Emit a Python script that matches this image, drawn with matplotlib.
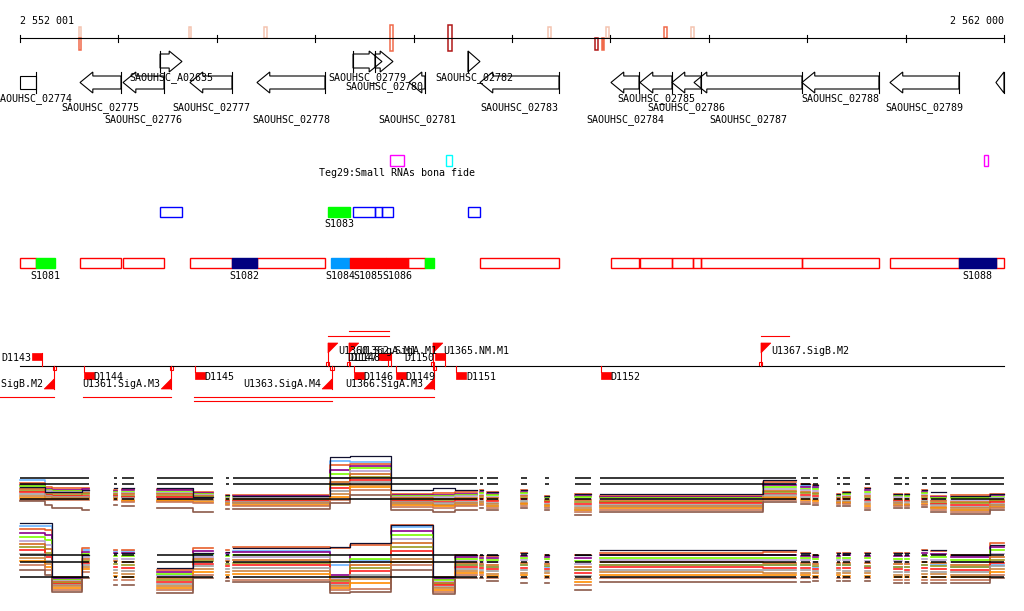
import numpy as np
import matplotlib
matplotlib.use("Agg")
import matplotlib.pyplot as plt
from matplotlib.patches import Polygon, Rectangle

# ---------------- data ----------------
win_start, win_end = 2552001, 2562000
ruler_labels = ["2 552 001", "2 562 000"]
tick_step = 1000

# peaks on the ruler: start, end, side, colour, filled
peak_start = [2552601, 2552601, 2553718, 2554480, 2555761, 2556350, 2557367, 2557844, 2557915, 2557956, 2558545, 2558819]
peak_end   = [2552621, 2552621, 2553738, 2554510, 2555791, 2556391, 2557397, 2557874, 2557935, 2557986, 2558575, 2558850]
peak_side  = ["up", "down", "up", "up", "both", "both", "up", "down", "down", "up", "up", "up"]
peak_color = ["#f4c4b0", "#f06a4a", "#f4c4b0", "#f4c4b0", "#f06a4a", "#b01818",
              "#f4c4b0", "#b01818", "#f06a4a", "#f4c4b0", "#f06a4a", "#f4c4b0"]
peak_fill  = [False, False, False, False, False, False, False, False, True, False, False, False]

# genes
gene_names  = ["SAOUHSC_02774", "SAOUHSC_02775", "SAOUHSC_02776", "SAOUHSC_A02635", "SAOUHSC_02777",
               "SAOUHSC_02778", "SAOUHSC_02779", "SAOUHSC_02780", "SAOUHSC_02781", "SAOUHSC_02782",
               "SAOUHSC_02783", "SAOUHSC_02784", "SAOUHSC_02785", "SAOUHSC_02786", "SAOUHSC_02787",
               "SAOUHSC_02788", "SAOUHSC_02789", ""]
gene_start  = [2551900, 2552611, 2553048, 2553424, 2553728, 2554409, 2555385, 2555608, 2555954, 2556553,
               2556675, 2558006, 2558301, 2558626, 2558850, 2559947, 2560841, 2561918]
gene_end    = [2552164, 2553027, 2553464, 2553647, 2554155, 2555100, 2555679, 2555791, 2556116, 2556675,
               2557478, 2558291, 2558626, 2558921, 2559947, 2560729, 2561542, 2562350]
gene_strand = ["-", "-", "-", "+", "-", "-", "+", "+", "-", "+", "-", "-", "-", "-", "-", "-", "-", "-"]
gene_lane   = [2, 3, 4, 0, 3, 4, 0, 1, 4, 0, 3, 4, 2, 3, 4, 2, 3, 2]

# small RNAs (Teg)
teg_start = [2555761, 2556330, 2561797]
teg_end   = [2555903, 2556391, 2561837]
teg_color = ["#ff00ff", "#00ffff", "#ff00ff"]
teg_label = "Teg29:Small RNAs bona fide"

# blue row + S1083
blue_start = [2553424, 2555385, 2555608, 2555679, 2556553]
blue_end   = [2553647, 2555608, 2555679, 2555791, 2556675]
s1083 = (2555131, 2555354)

# S-row segments
seg_out_start = [2552001, 2552611, 2553048, 2553728, 2554409, 2555944, 2556675, 2558006, 2558301,
                 2558626, 2558840, 2558921, 2559947, 2560841, 2561918]
seg_out_end   = [2552164, 2553027, 2553464, 2554155, 2555100, 2556116, 2557478, 2558291, 2558626,
                 2558840, 2558921, 2559947, 2560729, 2561542, 2562000]
seg_names = ["S1081", "S1082", "S1084", "S1085", "S1086", "", "S1088"]
seg_start = [2552164, 2554155, 2555161, 2555354, 2555720, 2556116, 2561542]
seg_end   = [2552357, 2554409, 2555354, 2555720, 2555944, 2556208, 2561918]
seg_color = ["#00ff00", "#000080", "#0099ff", "#ff0000", "#ff0000", "#00ff00", "#000080"]

# promoters and terminators
prom_names  = ["U1359.SigB.M2", "U1361.SigA.M3", "U1363.SigA.M4", "U1360.SigA.M1", "U1362.SigA.M1",
               "U1366.SigA.M3", "U1365.NM.M1", "U1367.SigB.M2"]
prom_pos    = [2552347, 2553536, 2555171, 2555131, 2555344, 2556208, 2556198, 2559531]
prom_strand = ["-", "-", "-", "+", "+", "-", "+", "+"]

term_names  = ["D1143", "D1144", "D1145", "D1146", "D1147", "D1148", "D1149", "D1150", "D1151", "D1152"]
term_pos    = [2552225, 2552651, 2553779, 2555395, 2555740, 2555771, 2555822, 2556320, 2556432, 2557905]
term_strand = ["+", "-", "-", "-", "+", "+", "-", "+", "-", "-"]

# transcription units
tu_start = [2551800, 2552641, 2553769, 2553769, 2555131, 2555344, 2559531]
tu_end   = [2552347, 2553536, 2556208, 2555171, 2555750, 2555750, 2559816]
tu_lane  = [0, 0, 0, 1, 2, 3, 2]

# expression blocks (where probes exist)
blocks = [(2552001, 2552255), (2552255, 2552326), (2552326, 2552631), (2552631, 2552702),
          (2552956, 2552987), (2553037, 2553160), (2553393, 2553759), (2553759, 2553962),
          (2554094, 2554125), (2554165, 2555151), (2555151, 2555354), (2555354, 2555771),
          (2555771, 2556198), (2556198, 2556421), (2556421, 2556645), (2556675, 2556706),
          (2556746, 2556858), (2557092, 2557153), (2557336, 2557377), (2557641, 2557803),
          (2557895, 2559551), (2559551, 2559886), (2559937, 2560028), (2560058, 2560109),
          (2560303, 2560333), (2560364, 2560435), (2560587, 2560637), (2560882, 2560963),
          (2560993, 2561034), (2561166, 2561217), (2561258, 2561410), (2561461, 2561858),
          (2561858, 2562000)]

# per block: [ref sample, 12 conditions, lowest sample]
expr_top = [
    [33, 40, 37, 35, 34, 32, 31, 29, 28, 26, 24, 22, 20, 19],
    [28, 21, 33, 31, 30, 29, 27, 26, 25, 24, 23, 21, 20, 15],
    [28, 22, 32, 30, 29, 28, 27, 25, 24, 23, 22, 21, 20, 12],
    [30, 23, 32, 31, 29, 28, 27, 26, 24, 23, 22, 21, 20, 10],
    [32, 24, 30, 29, 28, 27, 26, 25, 24, 23, 22, 21, 20, 15],
    [32, 23, 31, 30, 28, 27, 26, 24, 23, 22, 20, 19, 18, 14],
    [32, 22, 31, 30, 28, 27, 26, 24, 23, 21, 20, 19, 18, 12],
    [23, 20, 28, 27, 26, 25, 24, 23, 22, 21, 20, 18, 17, 8],
    [25, 18, 25, 24, 23, 22, 21, 20, 19, 18, 17, 16, 15, 11],
    [24, 17, 25, 24, 23, 22, 21, 20, 19, 18, 17, 15, 14, 11],
    [63, 59, 55, 50, 46, 42, 38, 35, 32, 29, 26, 23, 20, 17],
    [64, 58, 56, 54, 52, 49, 46, 43, 40, 38, 35, 33, 30, 25],
    [30, 16, 26, 25, 24, 23, 22, 20, 19, 18, 17, 15, 13, 10],
    [32, 15, 27, 25, 24, 23, 21, 20, 18, 17, 15, 14, 12, 8],
    [30, 16, 28, 26, 25, 24, 22, 21, 20, 18, 17, 15, 14, 10],
    [30, 17, 30, 28, 27, 25, 24, 22, 21, 19, 18, 16, 15, 12],
    [28, 14, 28, 26, 25, 23, 22, 20, 19, 17, 16, 14, 12, 10],
    [30, 16, 30, 28, 27, 25, 24, 22, 21, 19, 17, 16, 14, 12],
    [24, 13, 24, 23, 22, 21, 20, 19, 18, 16, 15, 14, 12, 10],
    [26, 10, 26, 24, 23, 21, 20, 18, 16, 14, 12, 10, 8, 5],
    [26, 13, 24, 23, 22, 21, 19, 18, 17, 15, 14, 12, 10, 8],
    [40, 36, 38, 35, 33, 31, 29, 28, 26, 25, 23, 22, 20, 18],
    [36, 34, 36, 33, 31, 30, 28, 27, 25, 23, 21, 20, 18, 16],
    [35, 32, 35, 33, 31, 29, 27, 26, 24, 22, 20, 19, 17, 15],
    [26, 18, 26, 25, 24, 23, 22, 21, 20, 19, 18, 17, 16, 14],
    [28, 17, 28, 27, 26, 24, 23, 22, 21, 19, 18, 17, 16, 14],
    [32, 20, 32, 30, 28, 26, 24, 22, 20, 18, 16, 14, 12, 10],
    [26, 16, 26, 25, 24, 23, 21, 20, 19, 18, 17, 15, 14, 12],
    [26, 15, 26, 25, 24, 22, 21, 20, 19, 18, 16, 15, 14, 12],
    [30, 18, 30, 28, 27, 25, 24, 22, 21, 19, 18, 16, 15, 13],
    [28, 12, 24, 23, 22, 20, 19, 17, 16, 15, 13, 12, 10, 8],
    [24, 10, 25, 23, 22, 20, 18, 17, 15, 13, 12, 10, 8, 6],
    [26, 14, 26, 25, 23, 22, 20, 19, 18, 16, 15, 13, 12, 10],
]
expr_bot = [
    [72, 69, 66, 62, 58, 54, 51, 48, 45, 41, 37, 34, 30, 25],
    [72, 69, 65, 60, 55, 50, 46, 42, 38, 34, 31, 28, 25, 20],
    [18, 17, 18, 16, 15, 14, 13, 12, 11, 10, 9, 7, 5, 3],
    [40, 45, 47, 43, 41, 38, 36, 34, 32, 30, 28, 26, 23, 17],
    [42, 44, 45, 42, 39, 36, 34, 31, 28, 25, 22, 19, 15, 10],
    [42, 44, 45, 42, 39, 36, 33, 30, 27, 24, 21, 18, 15, 10],
    [27, 20, 25, 23, 21, 19, 17, 15, 13, 11, 9, 7, 5, 2],
    [42, 40, 47, 44, 41, 38, 36, 34, 31, 29, 26, 23, 20, 17],
    [43, 40, 45, 42, 39, 36, 34, 31, 29, 26, 23, 20, 17, 14],
    [47, 44, 48, 43, 40, 38, 35, 32, 30, 27, 24, 21, 15, 13],
    [48, 30, 47, 20, 18, 17, 15, 14, 12, 10, 9, 7, 5, 2],
    [52, 35, 50, 40, 36, 33, 30, 27, 24, 20, 16, 12, 6, 3],
    [70, 68, 70, 64, 60, 56, 52, 48, 44, 40, 36, 33, 30, 25],
    [18, 16, 18, 16, 15, 13, 12, 11, 10, 8, 7, 5, 3, 1],
    [40, 30, 40, 38, 36, 34, 32, 30, 28, 26, 24, 22, 20, 17],
    [40, 30, 39, 37, 35, 33, 31, 29, 27, 25, 23, 22, 20, 17],
    [40, 28, 39, 37, 35, 33, 30, 28, 26, 24, 21, 19, 17, 14],
    [42, 30, 42, 39, 37, 35, 32, 30, 27, 25, 22, 20, 17, 12],
    [40, 28, 40, 38, 36, 33, 31, 29, 26, 24, 22, 19, 17, 12],
    [40, 25, 40, 37, 34, 31, 28, 25, 22, 19, 16, 13, 10, 5],
    [45, 30, 42, 40, 37, 35, 33, 30, 28, 25, 23, 20, 17, 13],
    [45, 30, 43, 40, 37, 35, 32, 30, 27, 25, 22, 20, 17, 13],
    [42, 30, 42, 39, 37, 35, 32, 30, 27, 25, 22, 20, 17, 13],
    [40, 28, 40, 38, 36, 33, 31, 29, 26, 24, 22, 19, 17, 14],
    [42, 30, 42, 39, 37, 35, 32, 30, 27, 25, 22, 20, 17, 14],
    [42, 30, 42, 40, 37, 35, 32, 30, 27, 24, 22, 19, 17, 14],
    [42, 28, 42, 39, 37, 34, 32, 29, 27, 24, 22, 19, 17, 14],
    [42, 28, 42, 39, 36, 34, 31, 28, 26, 23, 20, 18, 15, 12],
    [42, 28, 42, 39, 36, 33, 31, 28, 25, 23, 20, 18, 15, 12],
    [45, 30, 45, 42, 39, 36, 33, 30, 27, 24, 21, 18, 15, 12],
    [45, 30, 44, 41, 38, 35, 32, 29, 26, 23, 21, 18, 15, 12],
    [40, 28, 40, 38, 35, 33, 30, 28, 25, 23, 20, 18, 15, 12],
    [50, 30, 52, 48, 45, 41, 38, 35, 32, 29, 26, 23, 20, 17],
]
ref_top = [42, 36, 21]
ref_bot = [40, 33, 18]

# ---------------- style / layout ----------------
MONO = "DejaVu Sans Mono"
FS = 7.2
LW = 0.8
HEAD = 130
line_colors = ["#101030", "#6ab4ff", "#e8602c", "#8b008b", "#7cfc00", "#b8a0d0", "#d2691e",
               "#9a9a20", "#ff2020", "#a0a0a0", "#cd853f", "#ff8c00", "#c8785a", "#8b5a4a"]

W, H = 1024, 611
bp_per_px = (win_end - win_start) / 984.0
x_lo = win_start - 20 * bp_per_px
x_hi = win_end + 20 * bp_per_px

fig = plt.figure(figsize=(W / 100, H / 100), dpi=100)
ax = fig.add_axes([0, 0, 1, 1])
ax.set_xlim(x_lo, x_hi)
ax.set_ylim(H, 0)
ax.axis("off")


def txt(x, y, s, ha="center"):
    ax.text(x, y, s, ha=ha, va="baseline", fontsize=FS, family=MONO, color="black")


# ruler
ax.plot([win_start, win_end], [38, 38], color="k", lw=LW)
ticks = list(range(win_start, win_end, tick_step)) + [win_end]
for t in ticks:
    ax.plot([t, t], [35, 42], color="k", lw=LW)
txt(win_start, 24, ruler_labels[0], ha="left")
txt(win_end, 24, ruler_labels[1], ha="right")

side_y = {"up": (27, 38), "down": (38, 50), "both": (25, 51)}
for s, e, side, c, f in zip(peak_start, peak_end, peak_side, peak_color, peak_fill):
    y0, y1 = side_y[side]
    ax.add_patch(Rectangle((s, y0), e - s, y1 - y0, fill=f, fc=c, ec=c, lw=1.1))

# genes
row_box = {"+": (54, 68, 51, 72), "-": (76, 89, 72, 93)}
lane_y = [80, 89, 101, 110, 122]
for name, s, e, st, lane in zip(gene_names, gene_start, gene_end, gene_strand, gene_lane):
    yt, yb, ht, hb = row_box[st]
    ym = (ht + hb) / 2
    vs, ve = max(s, win_start), min(e, win_end)
    if st == "-":
        if s < win_start:
            ax.add_patch(Polygon([(vs, yt), (ve, yt), (ve, yb), (vs, yb)], closed=True,
                                 fill=False, ec="k", lw=LW))
        else:
            h = min(HEAD, ve - vs)
            if h == ve - vs:
                pts = [(vs, ym), (ve, ht), (ve, hb)]
            else:
                pts = [(vs, ym), (vs + h, ht), (vs + h, yt), (ve, yt), (ve, yb), (vs + h, yb), (vs + h, hb)]
            ax.add_patch(Polygon(pts, closed=True, fill=False, ec="k", lw=LW))
        ax.plot([ve, ve], [ht, hb], color="k", lw=LW)
    else:
        h = min(HEAD, ve - vs)
        if h == ve - vs:
            pts = [(ve, ym), (vs, ht), (vs, hb)]
        else:
            pts = [(ve, ym), (ve - h, ht), (ve - h, yt), (vs, yt), (vs, yb), (ve - h, yb), (ve - h, hb)]
        ax.add_patch(Polygon(pts, closed=True, fill=False, ec="k", lw=LW))
        ax.plot([vs, vs], [ht, hb], color="k", lw=LW)
    if name:
        cx = (vs + ve) / 2 if s >= win_start else ve - 30
        txt(cx, lane_y[lane], name)

# Teg small RNAs
for s, e, c in zip(teg_start, teg_end, teg_color):
    ax.add_patch(Rectangle((s, 155), e - s, 11, fill=False, ec=c, lw=1.0))
txt((teg_start[0] + teg_end[0]) / 2, 176, teg_label)

# blue row
for s, e in zip(blue_start, blue_end):
    ax.add_patch(Rectangle((s, 207), e - s, 10, fill=False, ec="#0000ff", lw=1.0))
ax.add_patch(Rectangle((s1083[0], 207), s1083[1] - s1083[0], 10, fc="#00ff00", ec="#00ff00", lw=1.0))
txt(sum(s1083) / 2, 227, "S1083")

# S segments
for s, e in zip(seg_out_start, seg_out_end):
    ax.add_patch(Rectangle((s, 258), e - s, 10, fill=False, ec="#ff0000", lw=1.0))
for n, s, e, c in zip(seg_names, seg_start, seg_end, seg_color):
    ax.add_patch(Rectangle((s, 258), e - s, 10, fc=c, ec=c, lw=1.0))
    if n:
        txt((s + e) / 2, 279, n)

# promoter / terminator track
ax.plot([win_start, win_end], [366, 366], color="k", lw=LW)
RED = "#ff0000"
for n, p, st in zip(prom_names, prom_pos, prom_strand):
    if st == "-":
        ax.plot([p, p], [366, 389], color=RED, lw=LW)
        ax.add_patch(Polygon([(p - 100, 389), (p, 379), (p, 389)], closed=True, fc=RED, ec=RED, lw=0.5))
        ax.add_patch(Rectangle((p - 15, 366), 35, 4, fill=False, ec=RED, lw=LW))
        txt(p - 105, 387, n, ha="right")
    else:
        ax.plot([p, p], [343, 366], color=RED, lw=LW)
        ax.add_patch(Polygon([(p, 343), (p + 100, 343), (p, 353)], closed=True, fc=RED, ec=RED, lw=0.5))
        ax.add_patch(Rectangle((p - 25, 362), 35, 4, fill=False, ec=RED, lw=LW))
        txt(p + 100, 354, n, ha="left")

for n, p, st in zip(term_names, term_pos, term_strand):
    if st == "+":
        ax.plot([p, p], [353, 366], color=RED, lw=LW)
        ax.add_patch(Rectangle((p - 100, 353), 100, 7, fc=RED, ec=RED, lw=0.5))
        txt(p - 105, 361, n, ha="right")
    else:
        ax.plot([p, p], [366, 372], color=RED, lw=LW)
        ax.add_patch(Rectangle((p, 372), 100, 7, fc=RED, ec=RED, lw=0.5))
        txt(p + 100, 380, n, ha="left")

tu_y = [397, 401, 336, 331]
for s, e, lane in zip(tu_start, tu_end, tu_lane):
    ax.plot([s, e], [tu_y[lane], tu_y[lane]], color=RED, lw=LW)


# expression panels
def panel(bottom_px, height_px, table, refs):
    a = fig.add_axes([0, (H - bottom_px) / H, 1, height_px / H])
    a.set_xlim(x_lo, x_hi)
    a.set_ylim(0, height_px)
    a.axis("off")
    n = len(table[0])
    order = list(range(1, n)) + [0]
    for j in order:
        xs, ys = [], []
        for k, (b0, b1) in enumerate(blocks):
            if k > 0 and blocks[k - 1][1] != b0:
                xs.append(np.nan)
                ys.append(np.nan)
            xs += [b0, b1]
            ys += [table[k][j], table[k][j]]
        a.plot(xs, ys, color=line_colors[j], lw=1.2 if j else 0.9)
    for b0, b1 in blocks:
        a.hlines(refs, b0, b1, color="k", lw=1.1)
    return a


panel(520, 65, expr_top, ref_top)
panel(595, 75, expr_bot, ref_bot)

fig.savefig("out.png", dpi=100)
